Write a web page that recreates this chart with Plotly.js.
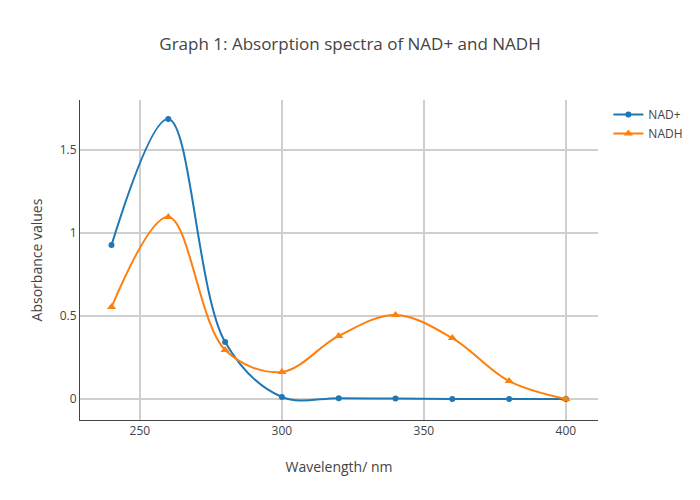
<!DOCTYPE html>
<html><head><meta charset="utf-8">
<script src="https://cdn.plot.ly/plotly-3.0.1.min.js"></script>
<style>body{margin:0}</style></head>
<body><div id="chart" style="width:700px;height:500px"></div>
<script>
const wavelength = [240, 260, 280, 300, 320, 340, 360, 380, 400];
const nadPlus = [0.928, 1.687, 0.343, 0.012, 0.005, 0.003, 0.0, 0.0, 0.0];
const nadh = [0.554, 1.096, 0.295, 0.163, 0.38, 0.506, 0.367, 0.108, 0.0];

const traces = [
  {x: wavelength, y: nadPlus, name: 'NAD+', type: 'scatter', mode: 'lines+markers',
   line: {shape: 'spline', color: '#1f77b4', width: 2}, marker: {symbol: 'circle', size: 6}},
  {x: wavelength, y: nadh, name: 'NADH', type: 'scatter', mode: 'lines+markers',
   line: {shape: 'spline', color: '#ff7f0e', width: 2}, marker: {symbol: 'triangle-up', size: 8}}
];
const layout = {
  width: 700, height: 500,
  font: {family: '"Open Sans", verdana, arial, sans-serif', size: 12, color: '#444'},
  title: {text: 'Graph 1: Absorption spectra of NAD+ and NADH', font: {size: 17}},
  margin: {l: 80, r: 102, t: 100, b: 80},
  xaxis: {title: {text: 'Wavelength/ nm', font: {size: 14}}, range: [228.9, 411.3],
          showgrid: true, gridcolor: '#cfcfcf', gridwidth: 2, showline: true, linecolor: '#444', linewidth: 1,
          zeroline: false, tickvals: [250, 300, 350, 400], ticks: ''},
  yaxis: {title: {text: 'Absorbance values', font: {size: 14}}, range: [-0.1265, 1.801],
          showgrid: true, gridcolor: '#cfcfcf', gridwidth: 2, showline: true, linecolor: '#444', linewidth: 1,
          zeroline: false, tickvals: [0, 0.5, 1, 1.5], ticktext: ['0', '0.5', '1', '1.5'], ticks: ''},
  legend: {x: 1.02, y: 1, xanchor: 'left', yanchor: 'top'},
  showlegend: true
};
Plotly.newPlot('chart', traces, layout, {displayModeBar: false});
</script></body></html>
